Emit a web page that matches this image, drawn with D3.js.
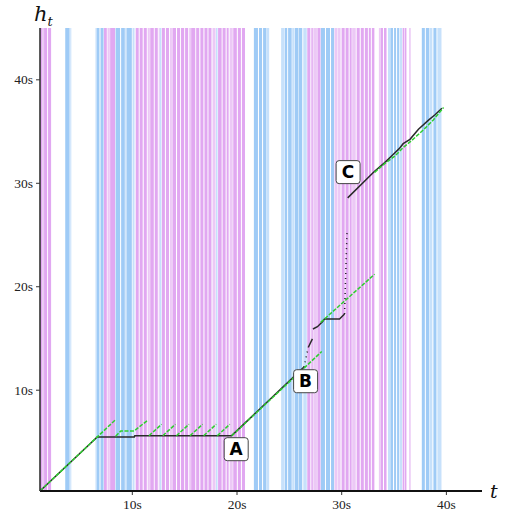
<!DOCTYPE html>
<html>
<head>
<meta charset="utf-8">
<script src="https://cdn.jsdelivr.net/npm/d3@7"></script>
<style>
  body { margin: 0; background: #fff; }
  .tick text { font-family: "Liberation Serif", serif; font-size: 13.5px; fill: #222; }
</style>
</head>
<body>
<div id="chart"></div>
<script>
// background intervals: [start s, end s, kind]
var stripes = [
  [1.23,1.43,"p"],[1.43,1.62,"lp"],[1.62,1.91,"p"],[2.00,2.29,"p"],
  [3.64,4.06,"b"],[4.12,4.22,"lb"],
  [6.53,6.67,"lb"],[6.67,6.91,"b"],[7.01,7.30,"b"],
  [7.34,7.61,"p"],[7.68,7.90,"lp"],[7.93,8.40,"p"],
  [8.45,8.88,"b"],[8.98,9.33,"b"],[9.37,9.52,"lb"],[9.52,10.0,"b"],[10.07,10.26,"lb"],
  [10.37,10.66,"p"],[10.75,11.04,"p"],[11.14,11.43,"p"],[11.52,11.72,"lp"],[11.76,12.10,"p"],
  [12.19,12.48,"p"],[12.57,12.67,"lp"],[12.67,12.82,"lb"],[12.87,13.16,"p"],[13.26,13.55,"p"],
  [13.64,13.83,"lp"],[13.88,14.22,"p"],[14.32,14.61,"p"],[14.70,15.0,"p"],[15.09,15.38,"p"],
  [15.48,15.67,"lp"],[15.67,16.06,"p"],[16.15,16.44,"p"],[16.55,16.84,"p"],[16.94,17.23,"p"],
  [17.32,17.61,"p"],[17.71,18.0,"lp"],[18.04,18.19,"lb"],[18.24,18.58,"p"],[18.67,18.96,"p"],
  [19.06,19.25,"p"],[19.35,19.64,"lp"],[19.69,20.03,"p"],[20.13,20.42,"p"],[20.52,20.81,"p"],
  [21.66,22.05,"b"],[22.15,22.44,"b"],[22.54,22.86,"b"],[22.88,23.12,"lb"],
  [24.26,24.55,"lb"],[24.60,24.84,"b"],[24.93,25.27,"b"],[25.32,25.51,"lb"],[25.56,25.90,"b"],
  [25.94,26.28,"b"],[26.38,26.71,"lb"],
  [26.76,27.05,"p"],[27.15,27.29,"p"],[27.34,27.68,"lp"],[27.73,28.02,"p"],
  [28.06,28.45,"b"],[28.55,28.93,"b"],[29.03,29.32,"b"],
  [29.36,29.65,"lp"],[29.70,29.94,"lp"],[30.04,30.33,"p"],[30.42,30.71,"p"],[30.81,31.00,"p"],
  [31.05,31.39,"lp"],[31.48,31.77,"p"],[31.87,32.16,"p"],[32.26,32.55,"p"],[32.64,32.83,"p"],
  [32.93,33.17,"p"],
  [33.60,33.70,"lp"],[33.75,33.99,"p"],[34.09,34.33,"p"],
  [34.47,34.71,"lb"],[34.71,34.95,"b"],[35.05,35.24,"b"],[35.34,35.53,"b"],[35.58,35.82,"lb"],
  [35.87,36.01,"p"],[36.06,36.23,"p"],[36.49,36.64,"lp"],
  [37.70,37.99,"b"],[38.09,38.42,"b"],[38.47,38.71,"lb"],[38.81,39.10,"b"],[39.19,39.58,"lb"]
];

// h_t estimate (black), solid pieces and sparse dotted pieces: [t, h]
var blackSolid = [
  [[1.23,0.21],[6.70,5.44],[10.24,5.44],[10.29,5.56],[19.54,5.56],[26.44,12.18]],
  [[26.86,14.10],[27.25,14.91]],
  [[27.30,15.87],[27.73,16.09],[28.21,16.57],[28.40,16.83],[29.84,16.83],[30.32,17.31]],
  [[30.62,28.54],[33.19,31.11],[34.16,31.95],[34.96,32.74],[35.54,33.30],[35.92,33.78],
   [36.57,34.20],[37.38,35.18],[38.34,36.06],[38.99,36.60],[39.62,37.20]]
];
var blackDotted = [
  [[26.44,12.18],[26.86,14.10]],
  [[30.32,17.31],[30.47,22.44],[30.57,25.52]]
];

// green reference pieces
var greenSegs = [
  [[1.23,0.21],[6.70,5.44],[8.46,7.11]],
  [[8.46,5.51],[8.95,6.02],[10.23,6.02],[11.52,7.05]],
  [[11.64,5.55],[12.84,6.66]],
  [[12.96,5.55],[14.16,6.66]],
  [[14.26,5.55],[15.46,6.66]],
  [[15.56,5.55],[16.76,6.66]],
  [[16.86,5.55],[18.06,6.66]],
  [[18.16,5.55],[19.36,6.66]],
  [[19.54,5.55],[28.14,13.69]],
  [[28.04,16.51],[33.19,21.16]],
  [[33.19,31.01],[34.16,31.85],[35.15,32.60],[35.92,33.40],[36.70,34.06],[37.86,35.12],
   [38.82,36.10],[39.78,37.27]]
];

var labelText = ["A", "B", "C"];
var labelT = [19.97, 26.60, 30.66];
var labelH = [4.25, 10.82, 31.03];

var xTicks = [10, 20, 30, 40];
var yTicks = [10, 20, 30, 40];

var colors = { p: "#e1a8f1", lp: "#ecc9f6", b: "#9fcbf6", lb: "#c7e1fb" };

var width = 507, height = 511;

var x = d3.scaleLinear().domain([1.23, 43.45]).range([40, 482]);
var y = d3.scaleLinear().domain([0.21, 44.96]).range([491, 28]);

var svg = d3.select("#chart").append("svg")
    .attr("width", width)
    .attr("height", height);

//stripes
svg.append("g").selectAll("rect")
    .data(stripes)
    .enter().append("rect")
    .attr("x", function (d) { return x(d[0]); })
    .attr("width", function (d) { return x(d[1]) - x(d[0]); })
    .attr("y", y.range()[1])
    .attr("height", y.range()[0] - y.range()[1])
    .attr("fill", function (d) { return colors[d[2]]; });

var line = d3.line()
    .x(function (d) { return x(d[0]); })
    .y(function (d) { return y(d[1]); });

//black estimate
svg.append("g").selectAll("path")
    .data(blackSolid)
    .enter().append("path")
    .attr("d", line)
    .attr("fill", "none")
    .attr("stroke", "#2a2a2a")
    .attr("stroke-width", 1.5);

svg.append("g").selectAll("path")
    .data(blackDotted)
    .enter().append("path")
    .attr("d", line)
    .attr("fill", "none")
    .attr("stroke", "#222")
    .attr("stroke-width", 1.5)
    .attr("stroke-dasharray", "1,4");

//green
svg.append("g").selectAll("path")
    .data(greenSegs)
    .enter().append("path")
    .attr("d", line)
    .attr("fill", "none")
    .attr("stroke", "#2fcf2f")
    .attr("stroke-width", 1.5)
    .attr("stroke-dasharray", "4,1.5");

//axes
var xAxis = d3.axisBottom(x).tickValues(xTicks).tickSize(4).tickPadding(4)
    .tickFormat(function (d) { return d + "s"; });
var yAxis = d3.axisLeft(y).tickValues(yTicks).tickSize(4).tickPadding(3)
    .tickFormat(function (d) { return d + "s"; });

var gx = svg.append("g")
    .attr("transform", "translate(0," + y.range()[0] + ")")
    .call(xAxis);
var gy = svg.append("g")
    .attr("transform", "translate(" + x.range()[0] + ",0)")
    .call(yAxis);

gx.select(".domain").remove();
gy.select(".domain").remove();
gx.selectAll(".tick line").attr("stroke", "#333");
gy.selectAll(".tick line").attr("stroke", "#333");

svg.append("line")
    .attr("x1", x.range()[0]).attr("x2", x.range()[1])
    .attr("y1", y.range()[0]).attr("y2", y.range()[0])
    .attr("stroke", "#111").attr("stroke-width", 2);
svg.append("line")
    .attr("x1", x.range()[0]).attr("x2", x.range()[0])
    .attr("y1", y.range()[0]).attr("y2", y.range()[1])
    .attr("stroke", "#333").attr("stroke-width", 1.6);

//axis names
var hLab = svg.append("text")
    .attr("x", 34)
    .attr("y", 21)
    .attr("font-family", "DejaVu Serif, serif")
    .attr("font-style", "italic")
    .attr("font-size", 21)
    .attr("fill", "#111");
hLab.append("tspan").text("h");
hLab.append("tspan").attr("font-size", 13).attr("dy", 5).text("t");

svg.append("text")
    .attr("x", 490)
    .attr("y", 498)
    .attr("font-family", "DejaVu Serif, serif")
    .attr("font-style", "italic")
    .attr("font-size", 19)
    .attr("fill", "#111")
    .text("t");

//A B C boxes
var tags = svg.append("g").selectAll("g")
    .data(labelText)
    .enter().append("g")
    .attr("transform", function (d, i) { return "translate(" + x(labelT[i]) + "," + y(labelH[i]) + ")"; });

tags.append("rect")
    .attr("x", -12).attr("y", -11.5)
    .attr("width", 24).attr("height", 23)
    .attr("rx", 3)
    .attr("fill", "#fff")
    .attr("stroke", "#444")
    .attr("stroke-width", 1);

tags.append("text")
    .attr("text-anchor", "middle")
    .attr("dy", "0.36em")
    .attr("font-family", "DejaVu Sans, sans-serif")
    .attr("font-weight", "bold")
    .attr("font-size", 17)
    .attr("fill", "#000")
    .text(function (d) { return d; });
</script>
</body>
</html>
